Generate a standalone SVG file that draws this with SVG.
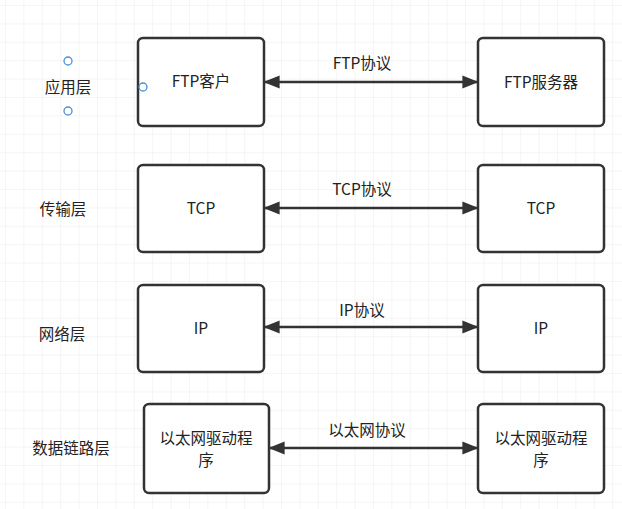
<svg xmlns="http://www.w3.org/2000/svg" width="622" height="509" viewBox="0 0 622 509">
<defs>
<pattern id="g" width="18.4" height="18.4" patternUnits="userSpaceOnUse" x="6" y="6"><path d="M18.4 0V18.4H0" fill="none" stroke="#ebebeb" stroke-width="1"/></pattern>
<marker id="a" viewBox="0 0 10 10" refX="9" refY="5" markerWidth="6.5" markerHeight="6.5" orient="auto-start-reverse"><path d="M0 1L10 5L0 9Z" fill="#333"/></marker>
<style>
.b{fill:#fff;stroke:#333;stroke-width:2.5}
text{font-family:"Noto Sans CJK SC","Liberation Sans",sans-serif;font-size:15.5px;fill:#222;text-anchor:middle}
.c{stroke:#333;stroke-width:2.5;marker-start:url(#a);marker-end:url(#a)}
.h{fill:#fff;stroke:#4a90d9;stroke-width:1.3}
</style>
</defs>
<rect width="622" height="509" fill="#fff"/>
<rect width="622" height="509" fill="url(#g)"/>
<g id="connectors">
<line class="c" x1="265" y1="82" x2="477" y2="82"/><text x="362" y="69">FTP协议</text>
<line class="c" x1="265" y1="208" x2="477" y2="208"/><text x="362" y="195">TCP协议</text>
<line class="c" x1="265" y1="327" x2="477" y2="327"/><text x="362" y="316">IP协议</text>
<line class="c" x1="270" y1="448" x2="477" y2="448"/><text x="367" y="436">以太网协议</text>
</g>
<g id="l1"><text x="68" y="93">应用层</text></g>
<g id="l2"><text x="63" y="215">传输层</text></g>
<g id="l3"><text x="62" y="340">网络层</text></g>
<g id="l4"><text x="71" y="454">数据链路层</text></g>
<g id="n1"><rect class="b" x="138" y="38" width="126" height="88" rx="5"/><text x="201" y="87">FTP客户</text></g>
<g id="n2"><rect class="b" x="478" y="38" width="126" height="88" rx="5"/><text x="541" y="88">FTP服务器</text></g>
<g id="n3"><rect class="b" x="138" y="165" width="126" height="87" rx="5"/><text x="201" y="214">TCP</text></g>
<g id="n4"><rect class="b" x="478" y="165" width="126" height="87" rx="5"/><text x="541" y="214">TCP</text></g>
<g id="n5"><rect class="b" x="138" y="285" width="126" height="87" rx="5"/><text x="201" y="334">IP</text></g>
<g id="n6"><rect class="b" x="478" y="285" width="126" height="87" rx="5"/><text x="541" y="334">IP</text></g>
<g id="n7"><rect class="b" x="144" y="404" width="125" height="89" rx="5"/><text x="206" y="444">以太网驱动程</text><text x="206" y="466">序</text></g>
<g id="n8"><rect class="b" x="478" y="404" width="126" height="89" rx="5"/><text x="541" y="444">以太网驱动程</text><text x="541" y="466">序</text></g>
<g id="handles"><circle class="h" cx="68" cy="61" r="4"/><circle class="h" cx="68" cy="111" r="4"/><circle class="h" cx="143" cy="87" r="4"/></g>
</svg>
